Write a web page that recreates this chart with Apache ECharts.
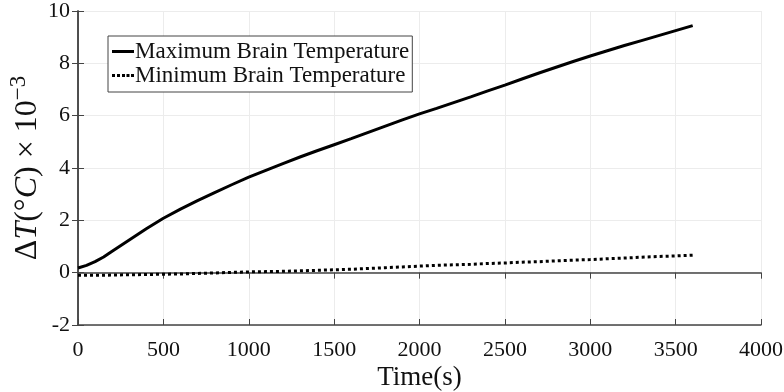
<!DOCTYPE html>
<html><head><meta charset="utf-8">
<script src="https://cdn.jsdelivr.net/npm/echarts@6/dist/echarts.min.js"></script>
<style>html,body{margin:0;padding:0;background:#fff}#c{width:784px;height:392px}</style>
</head><body><div id="c"></div>
<script>
const timeS = [0,50,100,150,200,300,400,500,600,700,800,900,1000,1100,1200,1300,1400,1500,1600,1700,1800,1900,2000,2100,2200,2300,2400,2500,2600,2700,2800,2900,3000,3100,3200,3300,3400,3500,3600];
const maxTemp = [0.18,0.28,0.42,0.6,0.82,1.25,1.68,2.08,2.43,2.75,3.06,3.36,3.65,3.91,4.17,4.42,4.66,4.89,5.12,5.36,5.6,5.84,6.07,6.28,6.5,6.72,6.95,7.17,7.4,7.63,7.85,8.07,8.28,8.48,8.68,8.87,9.06,9.25,9.44];
const minTemp = [-0.1,-0.1,-0.1,-0.1,-0.09,-0.08,-0.07,-0.06,-0.05,-0.03,-0.01,0.01,0.03,0.04,0.05,0.07,0.09,0.11,0.13,0.16,0.19,0.22,0.25,0.28,0.3,0.32,0.35,0.37,0.4,0.42,0.45,0.48,0.5,0.53,0.56,0.59,0.62,0.64,0.67];
const seriesNames = ['Maximum Brain Temperature','Minimum Brain Temperature'];
const xTicks = {min:0, max:4000, interval:500};
const yTicks = {min:-2, max:10, interval:2};

const font = 'Liberation Serif';
const axisCol = '#444';
const chart = echarts.init(document.getElementById('c'), null, {renderer:'canvas'});
const pairs = (xs, ys) => xs.map((x,i)=>[x, ys[i]]);
chart.setOption({
  animation:false,
  backgroundColor:'#fff',
  grid:{left:78, right:23, top:11, bottom:67, containLabel:false, outerBoundsMode:'none'},
  legend:{
    orient:'vertical', left:108, top:36, padding:[4,3,5,4], itemGap:1,
    itemWidth:22, itemHeight:3,
    borderColor:'#444', borderWidth:1, backgroundColor:'#fff',
    textStyle:{fontFamily:font, fontSize:23, color:'#111', padding:[0,0,0,-4]},
    data:[
      {name:seriesNames[0], icon:'path://M0,0H22V3H0Z'},
      {name:seriesNames[1], icon:'path://M0,0h3v3h-3zM5,0h3v3h-3zM10,0h3v3h-3zM14.5,0h3v3h-3zM19,0h3v3h-3z'}
    ]
  },
  xAxis:[{
    type:'value', min:xTicks.min, max:xTicks.max, interval:xTicks.interval,
    name:'Time(s)', nameLocation:'middle', nameGap:39, nameMoveOverlap:false,
    nameTextStyle:{fontFamily:font, fontSize:27, color:'#111'},
    axisLine:{onZero:false, lineStyle:{color:axisCol, width:1.5}},
    axisTick:{inside:true, length:6, lineStyle:{color:axisCol}},
    axisLabel:{fontFamily:font, fontSize:22, color:'#111', margin:14, formatter:v=>String(v)},
    splitLine:{show:true, lineStyle:{color:'#ececec', width:1}}
  },{
    type:'value', position:'top', min:xTicks.min, max:xTicks.max, interval:xTicks.interval,
    axisLine:{lineStyle:{color:axisCol, width:1.5}},
    axisTick:{inside:true, length:6, lineStyle:{color:axisCol}},
    axisLabel:{show:false}, splitLine:{show:false}
  }],
  yAxis:[{
    type:'value', min:yTicks.min, max:yTicks.max, interval:yTicks.interval,
    name:'{a|Δ}{i|T}{a|(°}{i|C}{a|) × 10}{s|−3}', nameLocation:'middle', nameGap:34, nameMoveOverlap:false,
    nameTextStyle:{
      color:'#111',
      rich:{
        a:{fontFamily:font, fontSize:32, color:'#111', lineHeight:37, verticalAlign:'bottom'},
        i:{fontFamily:font, fontSize:32, fontStyle:'italic', color:'#111', lineHeight:37, verticalAlign:'bottom'},
        s:{fontFamily:font, fontSize:23, color:'#111', lineHeight:37, verticalAlign:'top'}
      }
    },
    axisLine:{onZero:false, lineStyle:{color:axisCol, width:1.5}},
    axisTick:{inside:true, length:6, lineStyle:{color:axisCol}},
    axisLabel:{fontFamily:font, fontSize:22, color:'#111', margin:8},
    splitLine:{show:true, lineStyle:{color:'#ececec', width:1}}
  },{
    type:'value', position:'right', min:yTicks.min, max:yTicks.max, interval:yTicks.interval,
    axisLine:{show:true, lineStyle:{color:axisCol, width:1.5}},
    axisTick:{show:true, inside:true, length:6, lineStyle:{color:axisCol}},
    axisLabel:{show:false}, splitLine:{show:false}
  }],
  series:[{
    name:seriesNames[0], type:'line', symbol:'none',
    data:pairs(timeS, maxTemp),
    lineStyle:{color:'#000', width:3}, itemStyle:{color:'#000'}
  },{
    name:seriesNames[1], type:'line', symbol:'none',
    data:pairs(timeS, minTemp),
    lineStyle:{color:'#000', width:3, type:[3,3]}, itemStyle:{color:'#000'}
  }]
});
</script></body></html>
